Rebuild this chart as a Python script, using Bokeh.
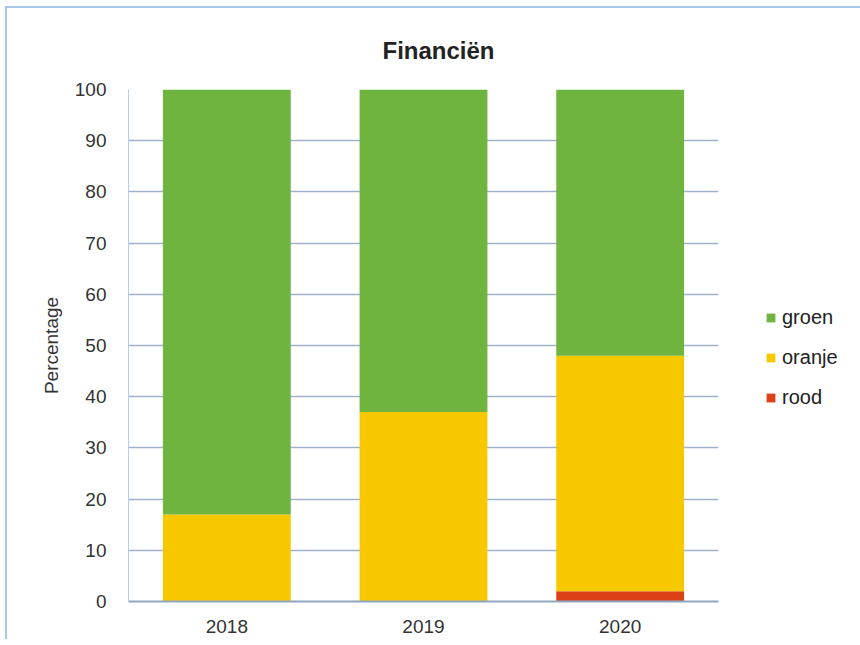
from bokeh.plotting import figure
from bokeh.models import ColumnDataSource, Legend, LegendItem, SingleIntervalTicker, Title
from bokeh.embed import file_html
from bokeh.resources import INLINE

years = ["2018", "2019", "2020"]
rood = [0, 0, 2]
oranje = [17, 37, 46]
groen = [83, 63, 52]
series = ["rood", "oranje", "groen"]
colors = ["#DC4016", "#F7C800", "#6EB43F"]

src = ColumnDataSource(dict(years=years, rood=rood, oranje=oranje, groen=groen))

p = figure(x_range=years, y_range=(0, 100), frame_width=590, frame_height=512,
           output_backend="svg", toolbar_location=None,
           min_border_left=121, min_border_right=0, min_border_top=10, min_border_bottom=40)
p.margin = (8, 0, 0, 7)

renderers = p.vbar_stack(series, x="years", width=0.65, color=colors, source=src, line_width=0)

title = Title(text="Financiën", align="left", offset=254, standoff=52,
              text_font="Liberation Sans", text_font_size="24px",
              text_font_style="bold", text_color="#222222")
p.add_layout(title, "above")

p.yaxis.ticker = SingleIntervalTicker(interval=10)
p.yaxis.axis_label = "Percentage"
p.yaxis.axis_label_text_font = "Liberation Sans"
p.yaxis.axis_label_text_font_size = "19px"
p.yaxis.axis_label_text_font_style = "normal"
p.yaxis.axis_label_text_color = "#333333"
p.yaxis.axis_label_standoff = 10
for ax in (p.xaxis, p.yaxis):
    ax.major_label_text_font = "Liberation Sans"
    ax.major_label_text_font_size = "19px"
    ax.major_label_text_color = "#333333"
    ax.major_tick_line_color = None
    ax.minor_tick_line_color = None
p.yaxis.axis_line_color = "#B5CDE6"
p.xaxis.axis_line_color = "#8FA5C0"
p.xaxis.axis_line_width = 2
p.xaxis.major_label_standoff = 12
p.yaxis.major_label_standoff = 16

p.xgrid.grid_line_color = None
p.ygrid.grid_line_color = "#9DB2CC"
p.ygrid.grid_line_width = 1.5
p.outline_line_color = None

items = [LegendItem(label=s, renderers=[r]) for s, r in zip(series[::-1], renderers[::-1])]
legend = Legend(items=items, location=(47, 184), orientation="vertical",
                glyph_width=11, glyph_height=11, label_height=40, spacing=0,
                padding=0, margin=0, border_line_color=None, background_fill_alpha=0,
                label_text_font="Liberation Sans", label_text_font_size="20px",
                label_text_color="#222222", label_standoff=6)
p.add_layout(legend, "right")

p.styles = {"box-shadow": "-2px -2px 0 0 #A9C8EA, 2px -2px 0 0 #A9C8EA"}

open("out.html", "w").write(file_html(p, INLINE))
